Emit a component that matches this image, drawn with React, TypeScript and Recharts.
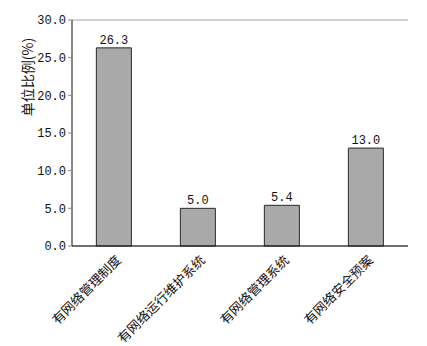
import React from 'react';
import { BarChart, Bar, XAxis, YAxis, CartesianGrid, LabelList } from 'recharts';

const categories = ['有网络管理制度', '有网络运行维护系统', '有网络管理系统', '有网络安全预案'];
const values = [26.3, 5.0, 5.4, 13.0];
const yTicks = [0, 5, 10, 15, 20, 25, 30];

const data = categories.map((name, i) => ({ name, value: values[i] }));

const NUM_FONT = '"Liberation Mono", "DejaVu Sans Mono", monospace';
const CJK_FONT = '"Noto Sans CJK SC", sans-serif';

const XTick = (props: any) => {
  const { x, payload } = props;
  const ax = x + 8;
  const ay = 261;
  return (
    <text
      x={ax}
      y={ay}
      transform={`rotate(-45, ${ax}, ${ay})`}
      textAnchor="end"
      fontSize={13}
      fontFamily={CJK_FONT}
      fill="#111"
    >
      {payload.value}
    </text>
  );
};

const YLabel = () => (
  <text
    x={27}
    y={77}
    transform="rotate(-90, 27, 77)"
    textAnchor="middle"
    dominantBaseline="central"
    fontSize={14}
    fontFamily={CJK_FONT}
    fill="#111"
  >
    单位比例(%)
  </text>
);

export default function App() {
  return (
    <div style={{ position: 'absolute', left: 0, top: 0, background: '#fff' }}>
      <BarChart
        width={427}
        height={346}
        data={data}
        margin={{ top: 20, right: 19, left: 0, bottom: 0 }}
        barCategoryGap="29%"
      >
        <CartesianGrid vertical={false} stroke="#a0a0a0" strokeWidth={1} />
        <XAxis
          dataKey="name"
          height={100}
          interval={0}
          tickLine={false}
          axisLine={{ stroke: '#111', strokeWidth: 1 }}
          tick={<XTick />}
        />
        <YAxis
          yAxisId="left"
          width={72}
          domain={[0, 30]}
          ticks={yTicks}
          interval={0}
          tickFormatter={(v: number) => v.toFixed(1)}
          tick={{ fontSize: 12, fontFamily: NUM_FONT, fill: '#111' }}
          tickLine={{ stroke: '#888' }}
          tickSize={4}
          axisLine={{ stroke: '#111' }}
          label={<YLabel />}
        />
        <YAxis
          yAxisId="right"
          orientation="right"
          width={0}
          domain={[0, 30]}
          ticks={yTicks}
          tick={false}
          tickLine={false}
          axisLine={{ stroke: '#999' }}
        />
        <Bar
          yAxisId="left"
          dataKey="value"
          fill="#a9a9a9"
          stroke="#2a2a2a"
          strokeWidth={1}
          isAnimationActive={false}
        >
          <LabelList
            dataKey="value"
            position="top"
            offset={4}
            formatter={(v: any) => Number(v).toFixed(1)}
            style={{ fontSize: 12, fontFamily: NUM_FONT, fill: '#111' }}
          />
        </Bar>
      </BarChart>
    </div>
  );
}
